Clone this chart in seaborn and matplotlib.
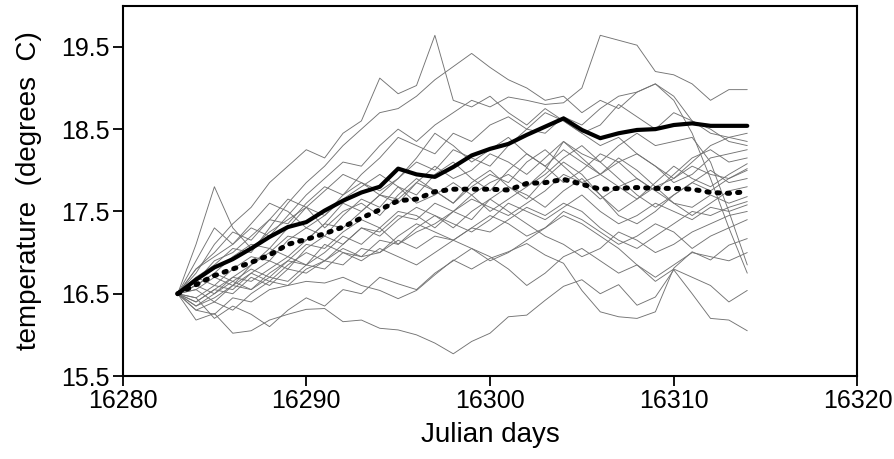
import matplotlib
matplotlib.use("Agg")
import matplotlib.pyplot as plt
import matplotlib.font_manager as fm
import numpy as np
import pandas as pd
import seaborn as sns

# ---------------- data ----------------
days = list(range(16283, 16315))  # 32 days

observed = [16.50, 16.67, 16.82, 16.92, 17.05, 17.19, 17.31, 17.37, 17.51, 17.63,
            17.73, 17.80, 18.02, 17.95, 17.92, 18.04, 18.18, 18.26, 18.32, 18.43,
            18.53, 18.63, 18.49, 18.39, 18.45, 18.49, 18.50, 18.55, 18.57, 18.54,
            18.54, 18.54]

ens_mean = [16.50, 16.61, 16.72, 16.80, 16.88, 16.97, 17.10, 17.16, 17.23, 17.31,
            17.42, 17.52, 17.63, 17.65, 17.74, 17.77, 17.77, 17.77, 17.76, 17.84,
            17.85, 17.89, 17.83, 17.77, 17.78, 17.79, 17.78, 17.78, 17.77, 17.73,
            17.72, 17.74]

m01 = [16.5, 16.75, 17.1, 17.35, 17.55, 17.85, 18.05, 18.25, 18.15, 18.45, 18.6, 19.12, 18.93, 19.03, 19.64, 18.85,
       18.77, 18.9, 18.7, 18.55, 18.75, 18.6, 18.45, 18.3, 18.4, 18.2, 18.05, 17.9, 18.1, 18.3, 18.4, 18.45]
m02 = [16.5, 17.1, 17.8, 17.3, 17.05, 17.25, 17.4, 17.55, 17.3, 17.5, 17.6, 17.45, 17.7, 17.9, 17.75, 17.6,
       17.85, 18.0, 17.8, 17.65, 17.9, 18.1, 17.95, 17.7, 17.5, 17.65, 17.8, 17.6, 17.45, 17.6, 17.75, 17.8]
m03 = [16.5, 16.8, 16.95, 17.1, 17.3, 17.2, 17.45, 17.7, 17.9, 18.1, 18.05, 18.3, 18.5, 18.35, 18.55, 18.7,
       18.85, 18.77, 18.89, 18.85, 18.8, 18.82, 19.0, 19.64, 19.58, 19.52, 19.2, 19.16, 19.05, 18.85, 18.98, 18.98]
m04 = [16.5, 16.7, 16.85, 17.05, 17.0, 17.3, 17.6, 17.85, 18.05, 18.3, 18.5, 18.7, 18.75, 18.9, 19.1, 19.26,
       19.42, 19.25, 19.1, 19.0, 18.85, 18.9, 18.7, 18.85, 18.75, 18.95, 19.05, 18.9, 18.6, 18.5, 18.35, 18.3]
m05 = [16.5, 16.65, 16.9, 17.0, 17.2, 17.4, 17.35, 17.6, 17.8, 17.7, 17.95, 18.15, 18.4, 18.3, 18.2, 18.45,
       18.35, 18.55, 18.65, 18.5, 18.7, 18.6, 18.45, 18.55, 18.8, 18.65, 18.5, 18.7, 18.6, 18.45, 18.4, 18.35]
m06 = [16.5, 16.6, 16.75, 16.95, 17.1, 17.05, 17.3, 17.55, 17.45, 17.7, 17.85, 17.75, 17.9, 18.1, 18.0, 18.25,
       18.15, 18.05, 18.3, 18.5, 18.45, 18.65, 18.55, 18.75, 18.9, 18.95, 19.05, 18.85, 18.45, 17.9, 17.3, 16.75]
m07 = [16.5, 16.55, 16.7, 16.6, 16.85, 17.0, 17.2, 17.15, 17.35, 17.6, 17.5, 17.7, 17.65, 17.85, 18.05, 17.9,
       18.0, 18.2, 18.1, 17.95, 18.15, 18.35, 18.2, 18.1, 18.3, 18.45, 18.3, 18.35, 18.4, 18.1, 17.5, 16.85]
m08 = [16.5, 16.7, 16.6, 16.8, 16.95, 16.9, 17.15, 17.3, 17.2, 17.45, 17.65, 17.55, 17.8, 17.7, 17.95, 18.1,
       17.9, 17.75, 18.0, 18.2, 18.05, 18.25, 18.1, 17.95, 18.1, 18.2, 18.05, 17.85, 17.95, 18.15, 18.2, 18.25]
m09 = [16.5, 16.6, 16.5, 16.7, 16.85, 17.05, 16.95, 17.15, 17.35, 17.3, 17.5, 17.7, 17.6, 17.85, 17.75, 17.6,
       17.8, 17.95, 17.85, 18.1, 18.25, 18.05, 17.85, 17.95, 18.15, 18.0, 17.8, 17.9, 18.05, 17.95, 17.9, 18.02]
m10 = [16.5, 16.45, 16.6, 16.55, 16.75, 16.9, 16.8, 17.05, 17.2, 17.1, 17.3, 17.25, 17.45, 17.4, 17.6, 17.5,
       17.4, 17.65, 17.8, 17.7, 17.55, 17.75, 17.9, 17.7, 17.45, 17.35, 17.5, 17.7, 17.85, 17.75, 17.9, 18.0]
m11 = [16.5, 16.4, 16.55, 16.7, 16.65, 16.8, 16.95, 16.85, 17.0, 17.2, 17.1, 17.3, 17.5, 17.45, 17.3, 17.5,
       17.65, 17.55, 17.45, 17.6, 17.75, 17.95, 17.85, 17.65, 17.8, 17.9, 17.75, 17.6, 17.55, 17.7, 17.6, 17.68]
m12 = [16.5, 16.35, 16.45, 16.6, 16.55, 16.7, 16.65, 16.85, 16.8, 17.0, 16.95, 17.15, 17.1, 17.3, 17.45, 17.35,
       17.25, 17.4, 17.6, 17.5, 17.4, 17.55, 17.7, 17.5, 17.35, 17.45, 17.6, 17.5, 17.4, 17.55, 17.5, 17.58]
m13 = [16.5, 16.3, 16.4, 16.3, 16.5, 16.65, 16.6, 16.8, 16.9, 16.85, 17.05, 17.0, 17.2, 17.35, 17.25, 17.15,
       17.3, 17.45, 17.35, 17.2, 17.3, 17.5, 17.4, 17.25, 17.1, 17.2, 17.35, 17.25, 17.05, 17.2, 17.3, 17.40]
m14 = [16.5, 16.3, 16.25, 16.45, 16.4, 16.55, 16.6, 16.65, 16.63, 16.7, 16.6, 16.54, 16.44, 16.54, 16.73, 16.91,
       16.80, 16.93, 17.01, 17.11, 16.97, 16.87, 16.54, 16.28, 16.22, 16.20, 16.28, 16.81, 17.01, 16.91, 17.09, 17.17]
m15 = [16.5, 16.18, 16.26, 16.02, 16.05, 16.18, 16.25, 16.31, 16.32, 16.16, 16.18, 16.08, 16.06, 16.00, 15.90, 15.77,
       15.92, 16.02, 16.22, 16.24, 16.42, 16.59, 16.67, 16.50, 16.61, 16.36, 16.46, 16.79, 16.50, 16.20, 16.18, 16.05]
m16 = [16.5, 16.45, 16.2, 16.35, 16.25, 16.1, 16.3, 16.45, 16.35, 16.55, 16.5, 16.7, 16.62, 16.55, 16.75, 16.9,
       17.05, 16.95, 16.8, 16.6, 16.75, 16.95, 17.05, 16.9, 16.75, 16.85, 16.65, 16.8, 16.7, 16.6, 16.40, 16.54]
m17 = [16.5, 16.55, 16.4, 16.6, 16.75, 16.65, 16.85, 17.0, 16.9, 17.1, 17.3, 17.2, 17.4, 17.55, 17.45, 17.3,
       17.5, 17.65, 17.5, 17.35, 17.2, 17.1, 16.95, 17.05, 17.25, 17.15, 17.0, 17.1, 17.25, 17.35, 17.45, 17.5]
m18 = [16.5, 16.8, 17.0, 17.25, 17.15, 17.4, 17.65, 17.55, 17.75, 17.95, 17.85, 17.7, 17.9, 18.15, 18.45, 18.3,
       18.1, 18.25, 18.4, 18.2, 18.05, 17.85, 18.0, 18.2, 18.1, 17.9, 17.75, 17.95, 18.15, 18.25, 18.1, 18.15]
m19 = [16.5, 16.9, 17.3, 17.1, 17.35, 17.6, 17.5, 17.3, 17.45, 17.65, 17.8, 17.95, 17.8, 17.6, 17.7, 17.85,
       17.7, 17.5, 17.65, 17.8, 17.95, 18.15, 18.3, 18.1, 17.9, 17.7, 17.55, 17.7, 17.85, 18.0, 17.85, 17.9]
m20 = [16.5, 16.4, 16.55, 16.5, 16.7, 16.6, 16.8, 16.75, 16.9, 17.05, 16.95, 17.0, 17.15, 17.05, 17.2, 17.15,
       17.3, 17.25, 17.4, 17.55, 17.45, 17.6, 17.5, 17.3, 17.15, 17.05, 17.2, 17.35, 17.5, 17.45, 17.55, 17.62]
m21 = [16.5, 16.6, 16.75, 16.65, 16.55, 16.75, 16.9, 17.1, 17.05, 17.25, 17.4, 17.3, 17.1, 17.25, 17.35, 17.5,
       17.7, 17.85, 17.95, 17.8, 18.0, 18.35, 18.15, 17.95, 17.8, 17.65, 17.85, 18.05, 17.9, 17.8, 17.95, 18.08]
m22 = [16.5, 16.35, 16.5, 16.65, 16.8, 16.7, 16.9, 16.85, 17.1, 17.0, 16.9, 17.05, 16.95, 16.85, 17.0, 17.15,
       17.05, 16.9, 17.0, 17.15, 17.3, 17.45, 17.35, 17.2, 17.05, 16.85, 16.7, 16.85, 17.0, 16.95, 16.9, 17.0]

members = [m01, m02, m03, m04, m05, m06, m07, m08, m09, m10, m11,
           m12, m13, m14, m15, m16, m17, m18, m19, m20, m21, m22]

x_ticks = [16280, 16290, 16300, 16310, 16320]
y_ticks = [15.5, 16.5, 17.5, 18.5, 19.5]
x_label = "Julian days"
y_label = "temperature  (degrees  C)"

# ---------------- style ----------------
sns.set_style("ticks")
avail = {f.name for f in fm.fontManager.ttflist}
fam = [f for f in ["Liberation Sans Narrow", "DejaVu Sans Condensed", "Liberation Sans", "DejaVu Sans"] if f in avail]
plt.rcParams["font.family"] = fam
plt.rcParams["axes.linewidth"] = 1.5
plt.rcParams["text.color"] = "black"
plt.rcParams["axes.labelcolor"] = "black"

rows = []
for i, m in enumerate(members):
    for d, v in zip(days, m):
        rows.append({"member": i, "day": d, "temp": v})
df = pd.DataFrame(rows)
obs_df = pd.DataFrame({"day": days, "temp": observed})
mean_df = pd.DataFrame({"day": days, "temp": ens_mean})

fig = plt.figure(figsize=(8.95, 4.59), dpi=100)
ax = fig.add_axes([0.1369, 0.1808, 0.9581 - 0.1369, 0.9876 - 0.1808])

sns.lineplot(data=df, x="day", y="temp", units="member", estimator=None,
             color="0.45", linewidth=0.65, ax=ax, legend=False)
sns.lineplot(data=obs_df, x="day", y="temp", color="black", linewidth=3.0,
             ax=ax, legend=False)
sns.lineplot(data=mean_df, x="day", y="temp", color="black", linewidth=3.6,
             ax=ax, legend=False)
dline = ax.lines[-1]
dline.set_dashes((0.45, 1.6))
dline.set_dash_capstyle("round")

ax.set_xlim(16280, 16320)
ax.set_ylim(15.5, 20.0)
ax.set_xticks(x_ticks)
ax.set_xticklabels([str(t) for t in x_ticks])
ax.set_yticks(y_ticks)
ax.set_yticklabels([f"{t:.1f}" for t in y_ticks])
ax.tick_params(direction="out", length=7, width=1.3, labelsize=18, pad=2,
               colors="black", labelcolor="black")
for s in ax.spines.values():
    s.set_visible(True)
    s.set_color("black")
    s.set_linewidth(1.5)
ax.set_xlabel(x_label, fontsize=20, color="black")
ax.set_ylabel(y_label, fontsize=20, color="black")
ax.xaxis.set_label_coords(0.5, -0.125)
ax.yaxis.set_label_coords(-0.11, 0.5)

fig.savefig("out.png", dpi=100)
